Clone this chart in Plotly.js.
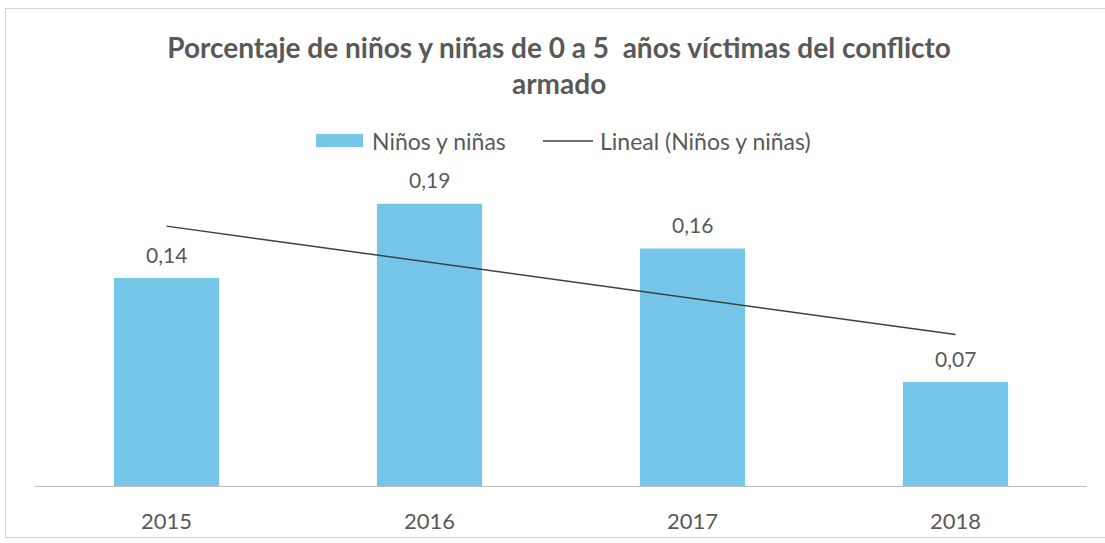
<!DOCTYPE html>
<html><head><meta charset="utf-8">
<script src="https://cdn.plot.ly/plotly-3.0.1.min.js"></script>
<style>html,body{margin:0;padding:0;background:#fff;}
#frame{position:absolute;left:5px;top:8px;width:1100px;height:530px;border:1px solid #d4d4d4;border-right:none;box-sizing:border-box;}
#chart{position:absolute;left:0;top:0;width:1105px;height:543px;}</style>
</head><body>
<div id="frame"></div>
<div id="chart"></div>
<script>
const years = ['2015', '2016', '2017', '2018'];
const values = [0.14, 0.19, 0.16, 0.07];
const valueLabels = ['0,14', '0,19', '0,16', '0,07'];
const trendYears = ['2015', '2018'];
const trendValues = [0.175, 0.102];
const seriesNames = ['Niños y niñas', 'Lineal (Niños y niñas)'];

const fontFam = 'Lato, "Open Sans", sans-serif';
const grey = '#595959';
const barColor = '#76c6ea';
const lineColor = '#404040';

const W = 1105, H = 543;
const ML = 35, MR = 18, MT = 189, MB = 57;
const pw = W - ML - MR, ph = H - MT - MB;
const px = v => (v - ML) / pw;
const py = v => (H - MB - v) / ph;

const bars = {
  type: 'bar', x: years, y: values, name: seriesNames[0],
  marker: {color: barColor}, showlegend: false, hoverinfo: 'x+y'
};
const trend = {
  type: 'scatter', mode: 'lines', x: trendYears, y: trendValues,
  name: seriesNames[1], showlegend: false,
  line: {color: lineColor, width: 1.5}
};

const annotations = years.map((yr, i) => ({
  x: i, y: values[i], xref: 'x', yref: 'y', text: valueLabels[i],
  showarrow: false, yanchor: 'middle', yshift: 24,
  font: {family: fontFam, size: 21, color: grey}
}));
annotations.push(
  {x: px(370), y: py(141), xref: 'paper', yref: 'paper', text: seriesNames[0], showarrow: false,
   xanchor: 'left', yanchor: 'middle', font: {family: fontFam, size: 23, color: grey}},
  {x: px(598), y: py(141), xref: 'paper', yref: 'paper', text: seriesNames[1], showarrow: false,
   xanchor: 'left', yanchor: 'middle', font: {family: fontFam, size: 23, color: grey}}
);
const shapes = [
  {type: 'rect', xref: 'paper', yref: 'paper', x0: px(316), x1: px(363), y0: py(147), y1: py(134),
   fillcolor: barColor, line: {width: 0}},
  {type: 'line', xref: 'paper', yref: 'paper', x0: px(543), x1: px(593), y0: py(141), y1: py(141),
   line: {color: lineColor, width: 1.5}}
];

const layout = {
  width: W, height: H, margin: {l: ML, r: MR, t: MT, b: MB},
  paper_bgcolor: 'rgba(0,0,0,0)', plot_bgcolor: 'rgba(0,0,0,0)',
  bargap: 0.6,
  title: {
    text: '<b>Porcentaje de niños y niñas de 0 a 5  años víctimas del conflicto<br>armado</b>',
    font: {family: fontFam, size: 28, color: grey},
    x: 0.506, xanchor: 'center', y: 1 - 58 / H, yanchor: 'middle', yref: 'container'
  },
  showlegend: false,
  annotations: annotations,
  shapes: shapes,
  xaxis: {
    type: 'category', categoryarray: years, categoryorder: 'array', range: [-0.5, 3.5],
    showgrid: false, zeroline: false,
    showline: true, linecolor: '#bfbfbf', linewidth: 1,
    ticks: '', tickfont: {family: fontFam, size: 22, color: grey}, ticklabelstandoff: 16
  },
  yaxis: {range: [0, 0.2], visible: false, showgrid: false, zeroline: false}
};
Plotly.newPlot('chart', [bars, trend], layout, {displayModeBar: false, staticPlot: true});
</script>
</body></html>
